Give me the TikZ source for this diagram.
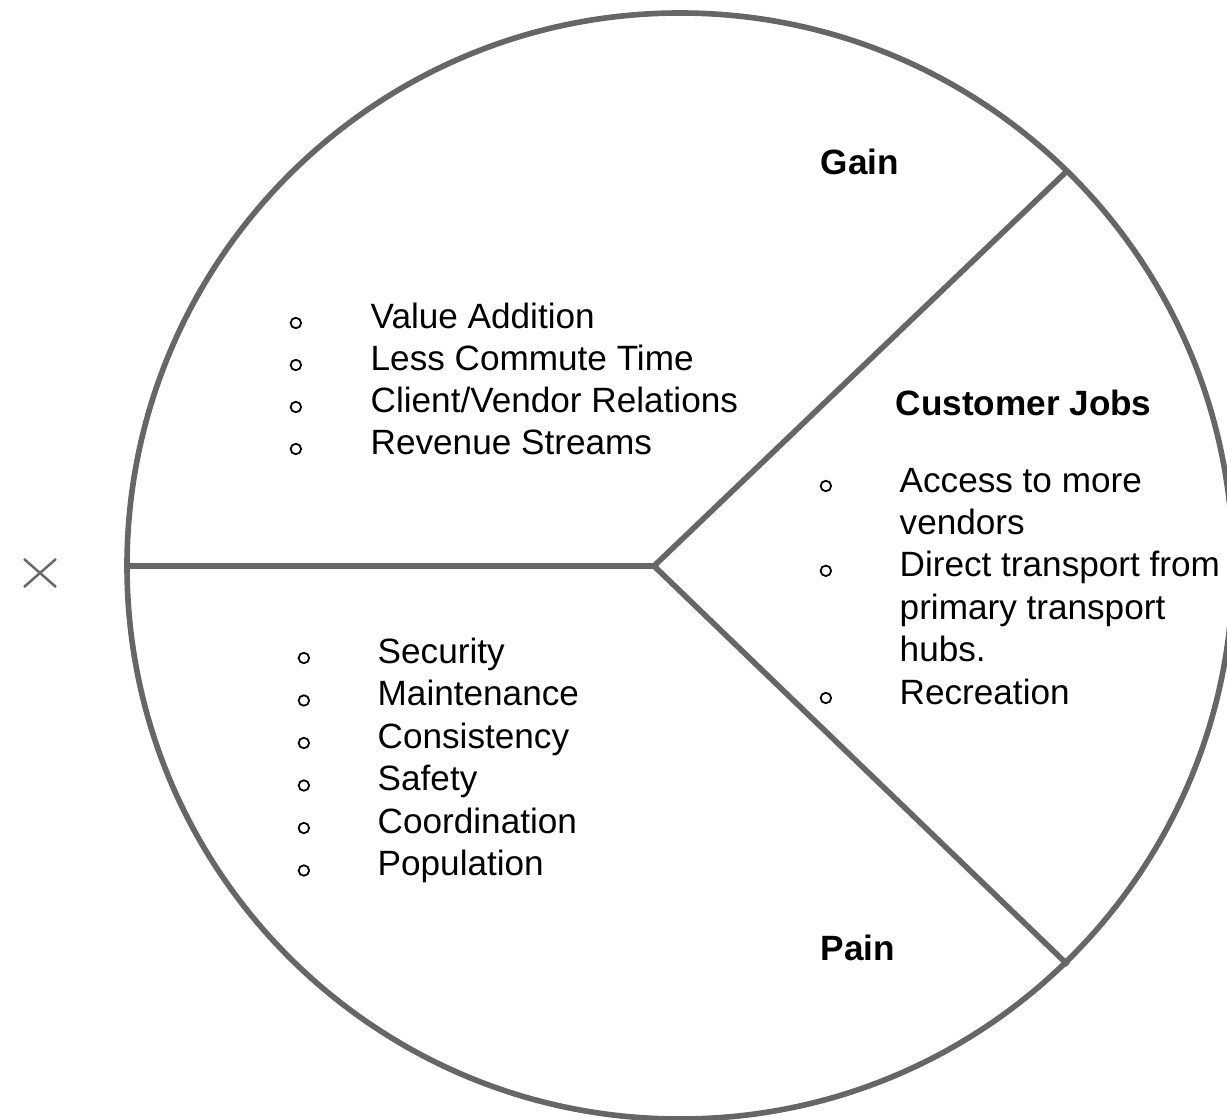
\documentclass[tikz,border=0pt]{standalone}
\usepackage{fontspec}
\setmainfont{Liberation Sans}
\usetikzlibrary{positioning}
\definecolor{edgegray}{HTML}{666666}

\begin{document}
\begin{tikzpicture}[
    item/.style={anchor=base west, inner sep=0pt, font=\fontsize{10}{12}\selectfont},
    heading/.style={item, font=\fontsize{10}{12}\selectfont\bfseries},
    dot/.style={circle, draw, line width=0.5pt, inner sep=0pt, minimum size=0.105cm},
    divider/.style={draw=edgegray, line width=1.6pt}
  ]
  \useasboundingbox (0,0) rectangle (12.27,11.19);

  % circle and the three sectors
  \coordinate (O) at (6.80,5.53);
  \coordinate (hub) at (6.54,5.53);
  \coordinate (west) at (1.27,5.53);
  \coordinate (ne) at (10.67,9.48);
  \coordinate (se) at (10.68,1.54);
  \draw [divider] (O) circle (5.53);
  \draw [divider] (west) -- (hub) -- (ne);
  \draw [divider] (hub) -- (se);

  % close mark
  \draw [edgegray, line width=0.7pt] (0.24,5.60) -- (0.56,5.32);
  \draw [edgegray, line width=0.7pt] (0.24,5.32) -- (0.56,5.60);

  \node [heading] (gain) at (8.20,9.45) {Gain};
  \node [heading] (jobs) at (8.95,7.04) {Customer Jobs};
  \node [heading] (pain) at (8.20,1.59) {Pain};

  \foreach \txt [count=\i] in {Value Addition, Less Commute Time, Client/Vendor Relations, Revenue Streams} {
    \node [item] (g\i) at (3.70,{7.91-0.42*(\i-1)}) {\txt};
    \node [dot, left=0.68cm of g\i.base west, yshift=0.05cm] (gb\i) {};
  }

  \foreach \txt [count=\i] in {Security, Maintenance, Consistency, Safety, Coordination, Population} {
    \node [item] (p\i) at (3.77,{4.56-0.425*(\i-1)}) {\txt};
    \node [dot, left=0.67cm of p\i.base west, yshift=0.05cm] (pb\i) {};
  }

  \foreach \txt [count=\i] in {Access to more, vendors, Direct transport from, primary transport, hubs., Recreation}
    \node [item] (c\i) at (8.99,{6.27-0.424*(\i-1)}) {\txt};
  \foreach \i in {1,3,6}
    \node [dot, left=0.67cm of c\i.base west, yshift=0.06cm] (cb\i) {};
\end{tikzpicture}
\end{document}
